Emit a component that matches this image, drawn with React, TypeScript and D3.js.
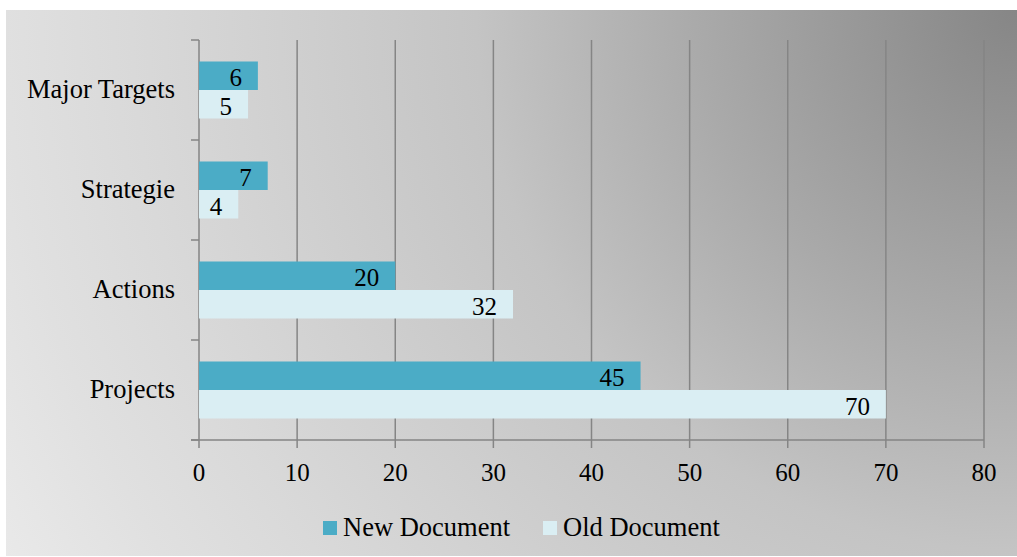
import { useEffect, useRef } from 'react';
import * as d3 from 'd3';

const categories = ['Major Targets', 'Strategie', 'Actions', 'Projects'];
const seriesNames = ['New Document', 'Old Document'];
const newDocument = [6, 7, 20, 45];
const oldDocument = [5, 4, 32, 70];
const xTicks = [0, 10, 20, 30, 40, 50, 60, 70, 80];
const colors = ['#4BACC6', '#DAEEF3'];

const W = 1017;
const H = 557;
const FONT = '"Liberation Serif", "Times New Roman", serif';

const App: React.FC = () => {
	const ref = useRef<SVGSVGElement>(null);

	useEffect(() => {
		if (!ref.current) return;
		const svg = d3.select(ref.current);
		svg.selectAll('*').remove();

		// background gradient, dark in the top right corner
		const defs = svg.append('defs');
		const grad = defs
			.append('radialGradient')
			.attr('id', 'bg')
			.attr('gradientUnits', 'userSpaceOnUse')
			.attr('cx', W)
			.attr('cy', 10)
			.attr('r', 1150);
		[
			[0, '#868686'],
			[0.28, '#aaaaaa'],
			[0.47, '#c4c4c4'],
			[0.77, '#d9d9d9'],
			[0.88, '#e0e0e0'],
			[1, '#e9e9e9'],
		].forEach(([o, c]) => grad.append('stop').attr('offset', o as number).attr('stop-color', c as string));

		svg.append('rect')
			.attr('x', 6)
			.attr('y', 10)
			.attr('width', W - 6)
			.attr('height', H - 11)
			.attr('fill', 'url(#bg)');

		const x = d3.scaleLinear().domain([0, 80]).range([199, 984]);
		const y = d3
			.scaleBand<string>()
			.domain(categories)
			.range([40, 440])
			.paddingInner(0.43)
			.paddingOuter(0.215);
		const sub = d3.scaleBand<string>().domain(seriesNames).range([0, y.bandwidth()]);

		const top = 40;
		const bottom = 440;
		const grid = svg.append('g').attr('stroke', '#858585').attr('stroke-width', 1.5);

		// vertical gridlines incl. tick marks below the axis
		xTicks.forEach((t) => {
			grid.append('line')
				.attr('x1', x(t))
				.attr('x2', x(t))
				.attr('y1', top)
				.attr('y2', bottom + 8);
		});
		// bottom axis
		grid.append('line')
			.attr('x1', x(0) - 8)
			.attr('x2', x(80))
			.attr('y1', bottom)
			.attr('y2', bottom);
		// category ticks on left axis
		const step = y.step();
		d3.range(categories.length + 1).forEach((i) => {
			const yy = top + i * step;
			grid.append('line')
				.attr('x1', x(0) - 8)
				.attr('x2', x(0))
				.attr('y1', yy)
				.attr('y2', yy);
		});

		const series = [newDocument, oldDocument];
		series.forEach((vals, si) => {
			const g = svg.append('g');
			g.selectAll('rect')
				.data(vals)
				.join('rect')
				.attr('x', x(0))
				.attr('y', (_, i) => (y(categories[i]) ?? 0) + (sub(seriesNames[si]) ?? 0))
				.attr('width', (d) => x(d) - x(0))
				.attr('height', sub.bandwidth())
				.attr('fill', colors[si]);

			g.selectAll('text')
				.data(vals)
				.join('text')
				.attr('x', (d) => x(d) - 16)
				.attr('y', (_, i) => (y(categories[i]) ?? 0) + (sub(seriesNames[si]) ?? 0) + sub.bandwidth() - 4)
				.attr('text-anchor', 'end')
				.style('font-family', FONT)
				.style('font-size', '25px')
				.attr('fill', '#000')
				.text((d) => d);
		});

		// category labels
		svg.append('g')
			.selectAll('text')
			.data(categories)
			.join('text')
			.attr('x', 175)
			.attr('y', (d) => (y(d) ?? 0) + y.bandwidth() / 2 + 8)
			.attr('text-anchor', 'end')
			.style('font-family', FONT)
			.style('font-size', '26.5px')
			.text((d) => d);

		// x tick labels
		svg.append('g')
			.selectAll('text')
			.data(xTicks)
			.join('text')
			.attr('x', (d) => x(d))
			.attr('y', 481)
			.attr('text-anchor', 'middle')
			.style('font-family', FONT)
			.style('font-size', '25px')
			.text((d) => d);

		// legend
		const legendX = [323, 543];
		const legend = svg.append('g');
		seriesNames.forEach((name, i) => {
			legend.append('rect')
				.attr('x', legendX[i])
				.attr('y', 521)
				.attr('width', 14)
				.attr('height', 14)
				.attr('fill', colors[i]);
			legend.append('text')
				.attr('x', legendX[i] + 20)
				.attr('y', 536)
				.style('font-family', FONT)
				.style('font-size', '26.5px')
				.text(name);
		});
	}, []);

	return (
		<svg
			ref={ref}
			width={W}
			height={H}
			style={{ position: 'absolute', left: 0, top: 0, background: '#fff' }}
		></svg>
	);
};

export default App;
